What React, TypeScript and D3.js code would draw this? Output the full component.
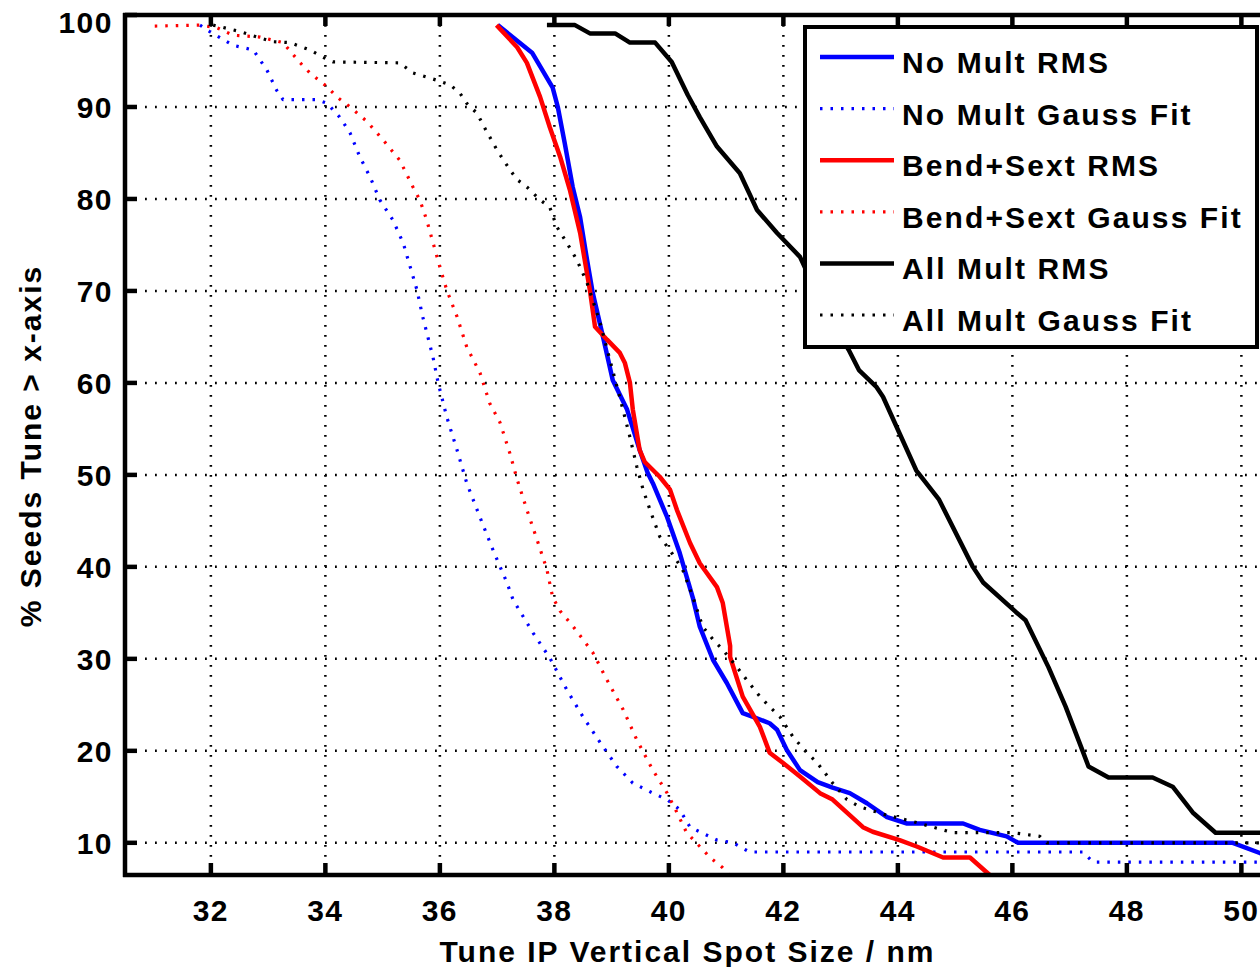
import * as d3 from 'd3';

// curves: [spot size nm, % seeds]
const noMultRms: [number, number][] = [
  [37.01, 98.9], [37.61, 95.9], [37.97, 92.1], [38.06, 90.0], [38.18, 86.1], [38.32, 81.3],
  [38.45, 78.0], [38.57, 73.4], [38.67, 69.8], [38.85, 65.0], [39.02, 60.3], [39.27, 57.1],
  [39.49, 52.7], [39.63, 50.2], [39.72, 49.1], [39.97, 45.4], [40.19, 41.5], [40.42, 36.6],
  [40.54, 33.5], [40.77, 29.9], [41.01, 27.4], [41.29, 24.1], [41.47, 23.7], [41.76, 23.0],
  [41.89, 22.3], [42.06, 20.1], [42.29, 17.9], [42.6, 16.6], [42.86, 16.0], [43.16, 15.4],
  [43.46, 14.3], [43.81, 12.8], [44.16, 12.1], [45.14, 12.1], [45.43, 11.4], [45.9, 10.7],
  [46.1, 10.0], [49.85, 10.0], [50.32, 8.9], [50.5, 8.5],
];

const noMultGauss: [number, number][] = [
  [31.81, 98.9], [31.98, 98.2], [32.39, 96.7], [32.74, 96.2], [32.98, 94.0], [33.15, 91.8],
  [33.26, 90.8], [33.85, 90.8], [34.03, 90.4], [34.25, 88.9], [34.43, 87.2], [34.6, 84.6],
  [34.78, 82.4], [34.95, 79.9], [35.18, 77.7], [35.36, 75.2], [35.6, 70.1], [35.7, 67.2],
  [35.88, 62.8], [35.97, 60.0], [36.12, 56.3], [36.3, 52.7], [36.47, 49.1], [36.7, 45.4],
  [36.93, 41.8], [37.17, 38.3], [37.28, 36.4], [37.63, 32.8], [37.92, 30.1], [38.22, 26.6],
  [38.5, 23.7], [38.8, 20.9], [39.09, 18.3], [39.37, 16.5], [39.72, 15.4], [39.97, 14.7],
  [40.19, 13.6], [40.37, 11.7], [40.84, 10.3], [41.12, 10.0], [41.41, 9.0], [47.23, 9.0],
  [47.41, 7.9], [50.5, 7.9],
];

const bendSextRms: [number, number][] = [
  [36.99, 98.9], [37.35, 96.5], [37.52, 94.8], [37.75, 91.1], [37.92, 87.8], [38.1, 84.6],
  [38.27, 81.0], [38.45, 76.3], [38.62, 70.1], [38.71, 66.1], [38.92, 64.7], [39.14, 63.3],
  [39.23, 62.2], [39.32, 60.0], [39.37, 57.1], [39.49, 52.7], [39.58, 51.4], [39.84, 49.8],
  [40.02, 48.4], [40.14, 46.2], [40.37, 42.6], [40.54, 40.4], [40.84, 37.8], [40.94, 36.1],
  [41.07, 31.4], [41.07, 30.2], [41.29, 25.9], [41.59, 22.6], [41.76, 19.8], [41.99, 18.7],
  [42.29, 17.2], [42.64, 15.4], [42.86, 14.7], [43.39, 11.7], [43.56, 11.2], [44.03, 10.3],
  [44.33, 9.6], [44.79, 8.4], [45.26, 8.4], [45.55, 6.8], [45.7, 6.0],
];

const bendSextGauss: [number, number][] = [
  [31.02, 98.8], [31.81, 98.9], [32.11, 98.6], [32.39, 97.8], [32.86, 97.6], [33.26, 97.0],
  [33.56, 94.8], [33.73, 93.7], [34.03, 92.2], [34.2, 91.1], [34.43, 90.0], [34.73, 88.4],
  [35.01, 86.4], [35.3, 84.2], [35.53, 81.3], [35.65, 79.9], [35.77, 77.7], [36.0, 72.6],
  [36.12, 70.1], [36.3, 67.2], [36.47, 63.9], [36.7, 61.1], [36.87, 57.8], [37.05, 55.7],
  [37.22, 52.4], [37.35, 49.5], [37.52, 46.2], [37.7, 42.9], [37.87, 39.7], [37.97, 36.7],
  [38.1, 35.2], [38.33, 33.5], [38.67, 30.7], [38.92, 27.7], [39.2, 24.5], [39.44, 21.2],
  [39.72, 17.9], [39.97, 15.4], [40.14, 13.3], [40.31, 11.1], [40.54, 9.6], [40.72, 8.4],
  [40.94, 7.3], [41.1, 6.2],
];

const allMultRms: [number, number][] = [
  [37.87, 98.9], [38.36, 98.9], [38.62, 98.0], [39.06, 98.0], [39.32, 97.0], [39.76, 97.0],
  [40.05, 94.9], [40.33, 91.3], [40.54, 88.9], [40.84, 85.7], [41.24, 82.8], [41.54, 78.8],
  [41.89, 76.3], [42.29, 73.7], [42.64, 69.0], [43.14, 63.6], [43.32, 61.4], [43.62, 59.6],
  [43.74, 58.5], [44.32, 50.5], [44.72, 47.3], [45.31, 40.0], [45.49, 38.3], [46.06, 35.1],
  [46.23, 34.2], [46.63, 29.1], [46.93, 24.8], [47.22, 20.1], [47.33, 18.3], [47.68, 17.1],
  [48.45, 17.1], [48.8, 16.1], [49.15, 13.3], [49.55, 11.1], [50.5, 11.1],
];

const allMultGauss: [number, number][] = [
  [32.04, 98.9], [32.51, 98.2], [32.81, 97.6], [33.08, 97.1], [33.38, 97.0], [33.73, 96.2],
  [33.96, 95.4], [34.13, 94.9], [35.3, 94.8], [35.53, 93.7], [35.95, 92.9], [36.18, 92.4],
  [36.35, 91.5], [36.47, 90.4], [36.65, 89.3], [36.82, 87.3], [37.0, 85.3], [37.22, 83.2],
  [37.35, 82.1], [37.52, 81.3], [37.75, 79.9], [37.92, 79.1], [38.04, 77.0], [38.22, 75.2],
  [38.39, 73.4], [38.57, 70.9], [38.8, 66.5], [38.97, 62.5], [39.14, 58.5], [39.32, 54.1],
  [39.44, 50.9], [39.55, 48.4], [39.67, 46.2], [39.84, 43.3], [40.02, 41.8], [40.24, 39.7],
  [40.42, 36.7], [40.59, 33.5], [40.77, 32.1], [40.94, 31.0], [41.19, 29.1], [41.36, 27.7],
  [41.59, 25.9], [41.76, 24.8], [41.94, 23.7], [42.17, 21.5], [42.41, 19.8], [42.59, 18.7],
  [42.86, 16.5], [43.11, 14.7], [43.34, 13.9], [43.81, 13.0], [44.33, 12.2], [44.96, 11.1],
  [46.01, 11.1], [46.48, 10.7], [46.6, 10.0], [50.5, 10.0],
];

const xTicks = [32, 34, 36, 38, 40, 42, 44, 46, 48, 50];
const yTicks = [10, 20, 30, 40, 50, 60, 70, 80, 90, 100];

const SERIES = [
  { name: 'No Mult RMS', data: noMultRms, color: '#0000ff', dotted: false },
  { name: 'No Mult Gauss Fit', data: noMultGauss, color: '#0000ff', dotted: true },
  { name: 'Bend+Sext RMS', data: bendSextRms, color: '#ff0000', dotted: false },
  { name: 'Bend+Sext Gauss Fit', data: bendSextGauss, color: '#ff0000', dotted: true },
  { name: 'All Mult RMS', data: allMultRms, color: '#000000', dotted: false },
  { name: 'All Mult Gauss Fit', data: allMultGauss, color: '#000000', dotted: true },
];

const W = 1260;
const H = 967;
const FONT = '"Liberation Sans", Arial, Helvetica, sans-serif';

export default function App() {
  const left = 125, top = 15, right = 1270, bottom = 875;
  const x = d3.scaleLinear().domain([30.5, 50.5]).range([left, right]);
  const y = d3.scaleLinear().domain([6.5, 100]).range([bottom, top]);
  const line = d3.line<[number, number]>().x(d => x(d[0])).y(d => y(d[1]));

  const dotStyle = { strokeWidth: 3.2, strokeDasharray: '2.5 8' };
  const solidWidth = 4.5;

  // legend box (pixels)
  const lx = 805, ly = 27, lw = 452, lh = 320;
  const rowH = 51.6;

  return (
    <div style={{ position: 'absolute', left: 0, top: 0 }}>
      <svg width={W} height={H} style={{ display: 'block', background: '#fff' }} fontFamily={FONT}>
        <defs>
          <clipPath id="plot">
            <rect x={left} y={top} width={right - left} height={bottom - top} />
          </clipPath>
        </defs>

        {/* grid */}
        <g stroke="#000" strokeWidth={2.5} strokeDasharray="1.8 8.2">
          {xTicks.map(t => (
            <line key={'gx' + t} x1={x(t)} x2={x(t)} y1={top} y2={bottom} />
          ))}
          {yTicks.filter(t => t < 100).map(t => (
            <line key={'gy' + t} x1={left} x2={right} y1={y(t)} y2={y(t)} />
          ))}
        </g>

        {/* data */}
        <g clipPath="url(#plot)" fill="none">
          {SERIES.map(s => (
            <path
              key={s.name}
              d={line(s.data) || ''}
              stroke={s.color}
              strokeWidth={s.dotted ? dotStyle.strokeWidth : solidWidth}
              strokeDasharray={s.dotted ? dotStyle.strokeDasharray : undefined}
              strokeLinejoin="round"
            />
          ))}
        </g>

        {/* axes frame and ticks */}
        <g stroke="#000" strokeWidth={4.5} fill="none">
          <line x1={left} x2={left} y1={top - 2} y2={bottom + 2} />
          <line x1={left - 2} x2={W} y1={bottom} y2={bottom} />
          <line x1={left - 2} x2={W} y1={top} y2={top} />
          {xTicks.map(t => (
            <g key={'tx' + t}>
              <line x1={x(t)} x2={x(t)} y1={bottom} y2={bottom - 12} />
              <line x1={x(t)} x2={x(t)} y1={top} y2={top + 11} />
            </g>
          ))}
          {yTicks.map(t => (
            <line key={'ty' + t} x1={left} x2={left + 12} y1={y(t)} y2={y(t)} />
          ))}
        </g>

        {/* tick labels */}
        <g fontSize={30} fontWeight="bold" fill="#000" letterSpacing={1.5}>
          {xTicks.map(t => (
            <text key={'lx' + t} x={x(t)} y={921} textAnchor="middle">{t}</text>
          ))}
          {yTicks.map(t => (
            <text key={'ly' + t} x={113} y={Math.max(y(t), 22) + 11} textAnchor="end">{t}</text>
          ))}
        </g>

        {/* axis titles */}
        <text x={(left + 1250) / 2} y={962} textAnchor="middle" fontSize={30} fontWeight="bold" letterSpacing={2}>
          Tune IP Vertical Spot Size / nm
        </text>
        <text
          transform="translate(41,446) rotate(-90)"
          textAnchor="middle"
          fontSize={30}
          fontWeight="bold"
          letterSpacing={2}
        >
          % Seeds Tune &gt; x-axis
        </text>

        {/* legend */}
        <g>
          <rect x={lx} y={ly} width={lw} height={lh} fill="#fff" stroke="#000" strokeWidth={4} />
          {SERIES.map((s, i) => {
            const cy = ly + 30 + i * rowH;
            return (
              <g key={'lg' + s.name}>
                <line
                  x1={lx + 15}
                  x2={lx + 89}
                  y1={cy}
                  y2={cy}
                  stroke={s.color}
                  strokeWidth={s.dotted ? dotStyle.strokeWidth : solidWidth}
                  strokeDasharray={s.dotted ? dotStyle.strokeDasharray : undefined}
                />
                <text x={lx + 97} y={cy + 16} fontSize={30} fontWeight="bold" letterSpacing={2.1}>
                  {s.name}
                </text>
              </g>
            );
          })}
        </g>
      </svg>
    </div>
  );
}
